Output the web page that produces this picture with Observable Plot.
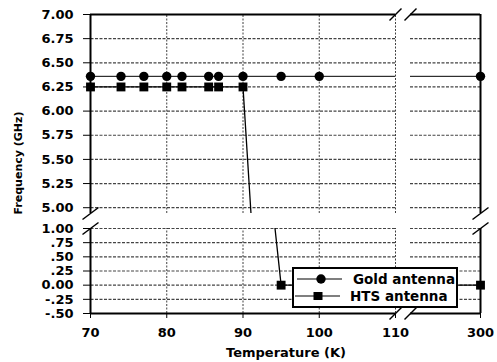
<!DOCTYPE html>
<html>
<head>
<meta charset="utf-8">
<script src="https://cdn.jsdelivr.net/npm/d3@7"></script>
<script src="https://cdn.jsdelivr.net/npm/@observablehq/plot@0.6"></script>
<style>
  html, body { margin: 0; padding: 0; background: white; }
  #chart { position: relative; width: 497px; height: 362px; background: white; overflow: hidden; }
  #chart > div.layer { position: absolute; left: 0; top: 0; }
  .lbl { position: absolute; font-family: "DejaVu Sans", sans-serif; font-weight: bold; color: #000; white-space: nowrap; }
</style>
</head>
<body>
<div id="chart">
  <div id="bottom" class="layer"></div>
  <div id="top" class="layer"></div>
  <div id="ylabel" class="lbl" style="left:18px;top:163px;font-size:11px;transform:translate(-50%,-50%) rotate(-90deg);">Frequency (GHz)</div>
  <div id="xlabel" class="lbl" style="left:286px;top:352px;font-size:13px;transform:translate(-50%,-50%);">Temperature (K)</div>
  <div id="legend" style="position:absolute;left:292px;top:267px;width:166px;height:41px;box-sizing:border-box;border:2px solid #000;background:#fff;"></div>
</div>
<script>
// ---- data ----
const seriesNames = ["Gold antenna", "HTS antenna"];
const goldTemps = [70, 74, 77, 80, 82, 85.5, 86.8, 90, 95, 100, 300];
const goldFreq  = [6.36, 6.36, 6.36, 6.36, 6.36, 6.36, 6.36, 6.36, 6.36, 6.36, 6.36];
const htsTemps  = [70, 74, 77, 80, 82, 85.5, 86.8, 90, 95, 300];
const htsFreq   = [6.25, 6.25, 6.25, 6.25, 6.25, 6.25, 6.25, 6.25, 0, 0];

const xTicks = [70, 80, 90, 100, 110, 300];
const xTickLabels = ["70", "80", "90", "100", "110", "300"];
const xGrid = [80, 90, 100, 110];
const topTicks = [7.0, 6.75, 6.5, 6.25, 6.0, 5.75, 5.5, 5.25, 5.0];
const topTickLabels = ["7.00", "6.75", "6.50", "6.25", "6.00", "5.75", "5.50", "5.25", "5.00"];
const botTicks = [1.0, 0.75, 0.5, 0.25, 0, -0.25, -0.5];
const botTickLabels = ["1.00", ".75", ".50", ".25", "0.00", "-.25", "-.50"];

// ---- build tables ----
const gold = goldTemps.map((t, i) => ({t, f: goldFreq[i]}));
const hts = htsTemps.map((t, i) => ({t, f: htsFreq[i]}));

// broken x axis: 70..110 then a break, right segment ending at 300
const xDomain = [70, 110, 290, 300];
const xRange = [90, 395, 410, 480];
const topY = [4.94, 7.0];
const botY = [-0.5, 1.0];

const slashY = {draw(ctx) { ctx.moveTo(-8, 6); ctx.lineTo(8, -6); }};
const slashX = {draw(ctx) { ctx.moveTo(-6, 6); ctx.lineTo(6, -6); }};

const style = {fontFamily: "DejaVu Sans", fontWeight: "bold", fontSize: "13px", background: "transparent", color: "black", overflow: "visible"};
const gridStyle = {stroke: "#000", strokeOpacity: 0.75, strokeWidth: 1, strokeDasharray: "2,1.5"};
const hGridStyle = {stroke: "#444", strokeWidth: 1.2, strokeDasharray: "3,1.5"};
const frameStyle = {stroke: "#000", strokeWidth: 2};

function panel(yDom, ticks, labels, mt, mb, isBottom) {
  const inPanel = d => d.f >= yDom[0] && d.f <= yDom[1];
  const gridVals = ticks.filter(v => v !== 7.0 && v !== -0.5).map(v => ({v}));
  const yEdge = isBottom ? yDom[0] : yDom[1];      // solid border edge
  const yBreak = isBottom ? yDom[1] : yDom[0];     // broken edge
  return Plot.plot({
    width: 497, height: 362,
    marginLeft: 90, marginRight: 17, marginTop: mt, marginBottom: mb,
    style,
    x: {type: "linear", domain: xDomain, range: xRange,
        ...(isBottom ? {axis: "bottom", ticks: xTicks, tickFormat: d => xTickLabels[xTicks.indexOf(d)], tickSize: 5, tickPadding: 9, label: null} : {axis: null})},
    y: {domain: yDom, ticks, tickFormat: d => labels[ticks.indexOf(d)], tickSize: 7, tickPadding: 10, label: null},
    marks: [
      Plot.link(gridVals, {x1: () => 70, x2: () => 300, y1: "v", y2: "v", ...hGridStyle}),
      Plot.line(gold, {x: "t", y: "f", stroke: "#000", strokeWidth: 1, clip: true}),
      Plot.line(hts, {x: "t", y: "f", stroke: "#000", strokeWidth: 1.3, clip: true}),
      Plot.rect([0], {x1: 110, x2: 290, y1: yDom[0], y2: yDom[1], fill: "white", inset: 0}),
      Plot.ruleX(xGrid, {y1: yDom[0], y2: yDom[1], ...gridStyle}),
      Plot.ruleY([yEdge], {x1: 70, x2: 110, ...frameStyle}),
      Plot.ruleY([yEdge], {x1: 290, x2: 300, ...frameStyle}),
      Plot.ruleX([70, 300], {y1: yDom[0], y2: yDom[1], ...frameStyle}),
      Plot.dot(gold.filter(inPanel), {x: "t", y: "f", r: 4.7, fill: "#000", symbol: "circle"}),
      Plot.dot(hts.filter(inPanel), {x: "t", y: "f", r: 5, fill: "#000", symbol: "square"}),
      Plot.dot([70, 300], {x: d => d, y: () => yBreak, symbol: slashY, fill: "none", stroke: "#000", strokeWidth: 1.5}),
      Plot.dot([110, 290], {x: d => d, y: () => yEdge, symbol: slashX, fill: "none", stroke: "#000", strokeWidth: 1.5})
    ]
  });
}

document.getElementById("top").append(panel(topY, topTicks, topTickLabels, 14, 149, false));
document.getElementById("bottom").append(panel(botY, botTicks, botTickLabels, 228, 49, true));

// ---- legend ----
const lg = d3.select("#legend").append("svg").attr("width", 162).attr("height", 37)
  .style("display", "block").style("font-family", "DejaVu Sans").style("font-weight", "bold").style("font-size", "13.5px");
const rows = [{y: 10, x1: 3, x2: 48, cx: 27, tx: 59, shape: "circle"}, {y: 27, x1: 1, x2: 46, cx: 24, tx: 56, shape: "square"}];
rows.forEach((r, i) => {
  lg.append("line").attr("x1", r.x1).attr("x2", r.x2).attr("y1", r.y).attr("y2", r.y).attr("stroke", "#000").attr("stroke-width", 1.2);
  if (r.shape === "circle") lg.append("circle").attr("cx", r.cx).attr("cy", r.y).attr("r", 4.7).attr("fill", "#000");
  else lg.append("rect").attr("x", r.cx - 4.5).attr("y", r.y - 4).attr("width", 9).attr("height", 8).attr("fill", "#000");
  lg.append("text").attr("x", r.tx).attr("y", r.y).attr("dy", "0.36em").text(seriesNames[i]);
});
</script>
</body>
</html>
